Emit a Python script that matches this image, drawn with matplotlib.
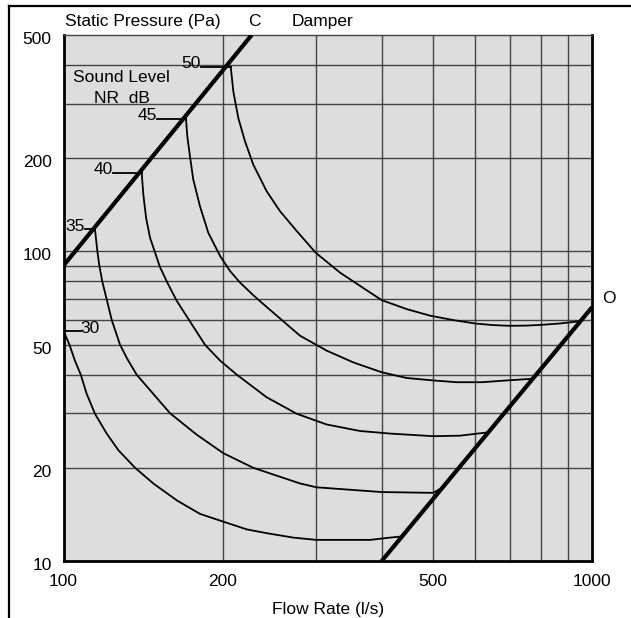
import matplotlib
matplotlib.use("Agg")
import matplotlib.pyplot as plt
from matplotlib.lines import Line2D
from matplotlib.transforms import ScaledTranslation

plt.rcParams['font.family'] = ['Liberation Sans', 'DejaVu Sans']

nr30_q = [100, 102.6, 105.1, 107.8, 110.6, 114.7, 120.7, 127.0, 136.6, 147.9, 163.8, 181.2, 200.6,
          222.2, 242.3, 272.2, 301, 343.5, 380.2, 414.7, 436.5]
nr30_p = [55.4, 50, 44.4, 40, 34.7, 29.9, 25.8, 22.8, 20.0, 17.8, 15.7, 14.2, 13.4,
          12.65, 12.3, 11.9, 11.7, 11.7, 11.7, 11.9, 12.0]
nr35_q = [114.7, 115.9, 116.9, 118.4, 120.7, 123.4, 127.9, 132, 137.5, 159.1, 178.6, 200.6,
          228.6, 264.5, 280.3, 301, 400, 500.9, 515.7]
nr35_p = [117.8, 100, 90, 80, 70, 60, 50, 45, 40, 30, 25.6, 22.3,
          20.0, 18.4, 17.8, 17.3, 16.7, 16.6, 17.1]
nr40_q = [140.6, 141.6, 143.3, 145.8, 148.9, 152.2, 157.2, 163.8, 173.5, 185.3, 197.8, 212.7,
          242.3, 276.2, 314.8, 363.9, 414.7, 500.9, 562.6, 632]
nr40_p = [179.2, 152.7, 128.4, 110.7, 99.6, 89.1, 79.3, 69.2, 59.4, 49.9, 44.4, 40,
          33.8, 29.9, 27.6, 26.3, 25.8, 25.3, 25.4, 26.0]
nr45_q = [170.5, 171.5, 173.5, 176.0, 181.2, 187.9, 197.8, 206.5, 215.8, 228.6, 238.8,
          280.3, 314.8, 353.5, 400, 446.1, 500.9, 554.6, 618.5, 689.6, 774.2]
nr45_p = [268.3, 235.3, 202.9, 170.7, 140.0, 114.9, 96.7, 86.5, 79.3, 72.2, 67.6,
          53.4, 47.8, 43.8, 40.7, 39.0, 38.3, 37.8, 37.8, 38.3, 38.8]
nr50_q = [207.2, 209.6, 214.2, 220.5, 228.6, 242.3, 256.8, 276.2, 300.1, 333.6, 363.9, 400,
          446.1, 493.9, 546.6, 600.6, 650.5, 699.5, 752.2, 800.6, 869.9, 942.1]
nr50_p = [395, 328, 269.4, 226.8, 190.7, 156.5, 134.9, 116.4, 99.0, 85.4, 77.4, 69.6,
          65.1, 62.0, 60.0, 58.5, 57.8, 57.5, 57.6, 57.9, 58.5, 59.4]

nr_labels = ['30', '35', '40', '45', '50']
label_q = [107.8, 109.8, 124, 150, 181.8]   # bout du petit trait de repere

# droites registre ferme (C) / ouvert (O)
c_q = [100, 227]
c_p = [90, 500]
o_q = [400, 1000]
o_p = [10, 66]

grid_q = [200, 300, 400, 500, 600, 700, 800, 900]
grid_p = [20, 30, 40, 50, 60, 70, 80, 90, 100, 200, 300, 400]
x_ticks = [100, 200, 500, 1000]
y_ticks = [10, 20, 50, 100, 200, 500]

fig = plt.figure(figsize=(6.31, 6.18), dpi=100)
ax = fig.add_axes([63.5/631, 57/618, 528.5/631, 526/618])
ax.set_xscale('log')
ax.set_yscale('log')
ax.set_xlim(100, 1000)
ax.set_ylim(10, 500)
ax.set_facecolor('#dddddd')

for q in grid_q:
    ax.axvline(q, color='#444444', lw=1.0, zorder=1)
for p in grid_p:
    ax.axhline(p, color='#444444', lw=1.0, zorder=1)

curves = [(nr30_q, nr30_p), (nr35_q, nr35_p), (nr40_q, nr40_p), (nr45_q, nr45_p), (nr50_q, nr50_p)]
for (q, p), lab, lq in zip(curves, nr_labels, label_q):
    ax.plot(q, p, color='black', lw=1.3, zorder=2, solid_joinstyle='round')
    ax.plot([lq, q[0]], [p[0], p[0]], color='black', lw=1.3, zorder=2)
    if lab == '30':
        ax.annotate(lab, (lq, p[0]), xytext=(0, 1.5), textcoords='offset points',
                    ha='left', va='center', fontsize=12.5)
    else:
        ax.annotate(lab, (lq, p[0]), xytext=(0, -1), textcoords='offset points',
                    ha='right', va='baseline', fontsize=12.5)

ax.plot(c_q, c_p, color='black', lw=3, zorder=3, solid_capstyle='butt')
ax.plot(o_q, o_p, color='black', lw=3, zorder=3, solid_capstyle='butt')

ax.set_xticks(x_ticks, labels=[str(v) for v in x_ticks])
ax.set_yticks(y_ticks, labels=[str(v) for v in y_ticks])
ax.set_xticks([], minor=True)
ax.set_yticks([], minor=True)
ax.tick_params(axis='both', length=0, labelsize=12.5)
ax.tick_params(axis='y', pad=8.5)
ax.tick_params(axis='x', pad=9)
offs = ScaledTranslation(0, -0.03, fig.dpi_scale_trans)
for lbl in ax.get_yticklabels():
    lbl.set_transform(lbl.get_transform() + offs)

for s in ['left', 'bottom', 'right']:
    ax.spines[s].set_linewidth(2)
ax.spines['top'].set_color('#444444')
ax.spines['top'].set_linewidth(1)

ax.text(0.003, 1.0266, 'Static Pressure (Pa)', transform=ax.transAxes, ha='left', va='center', fontsize=12.5)
ax.text(0.3605, 1.0266, 'C', transform=ax.transAxes, ha='center', va='center', fontsize=12.5)
ax.text(0.4908, 1.0266, 'Damper', transform=ax.transAxes, ha='center', va='center', fontsize=12.5)
ax.text(1.0316, 0.4994, 'O', transform=ax.transAxes, ha='center', va='center', fontsize=12.5)
ax.text(0.1096, 0.9196, 'Sound Level', transform=ax.transAxes, ha='center', va='center', fontsize=12.5)
ax.text(0.1098, 0.8797, 'NR  dB', transform=ax.transAxes, ha='center', va='center', fontsize=12.5)
ax.text(0.501, -0.0913, 'Flow Rate (l/s)', transform=ax.transAxes, ha='center', va='center', fontsize=12.5)

# cadre (haut + gauche)
fig.add_artist(Line2D([9/631, 1], [1 - 5.5/618, 1 - 5.5/618], color='black', lw=1.6))
fig.add_artist(Line2D([9/631, 9/631], [0, 1 - 5.5/618], color='black', lw=1.6))

fig.savefig('out.png', dpi=100)
